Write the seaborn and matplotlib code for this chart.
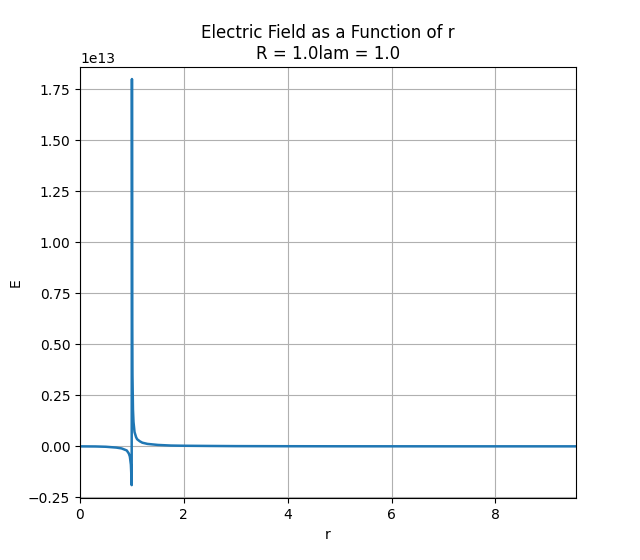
import matplotlib
matplotlib.use("Agg")
import matplotlib.pyplot as plt
import seaborn as sns
import pandas as pd

# values (E in units of 1e13)
r_vals = [0.0, 0.3, 0.5, 0.7, 0.8, 0.9, 0.94, 0.96, 0.98, 0.99, 0.995,
          1.0, 1.003, 1.006, 1.01, 1.02, 1.03, 1.05, 1.08, 1.1, 1.15, 1.2,
          1.3, 1.5, 1.75, 2.0, 2.5, 3.0, 4.0, 5.0, 6.0, 7.0, 8.0, 9.0, 9.55]
e_vals = [0.0, -0.0005, -0.002, -0.006, -0.01, -0.02, -0.035, -0.05, -0.09, -0.15, -0.19,
          1.80, 1.2, 0.6, 0.35, 0.18, 0.12, 0.07, 0.045, 0.035, 0.025, 0.018,
          0.012, 0.007, 0.004, 0.003, 0.002, 0.0012, 0.0007, 0.0004, 0.0003, 0.0002, 0.00015, 0.0001, 0.0001]

df = pd.DataFrame({"r": r_vals, "E": [v * 1e13 for v in e_vals]})

fig, ax = plt.subplots(figsize=(6.4, 5.6), dpi=100)
sns.lineplot(data=df, x="r", y="E", ax=ax, linewidth=1.8, color="#1f77b4")
ax.set_xlim(0, 9.55)
ax.set_ylim(-0.255e13, 1.858e13)
ax.grid(True)
ax.set_title("Electric Field as a Function of r\nR = 1.0lam = 1.0")
ax.set_xlabel("r")
ax.set_ylabel("E")
fig.subplots_adjust(left=0.125, right=0.9, top=0.88, bottom=0.11)
fig.savefig("out.png", dpi=100)
